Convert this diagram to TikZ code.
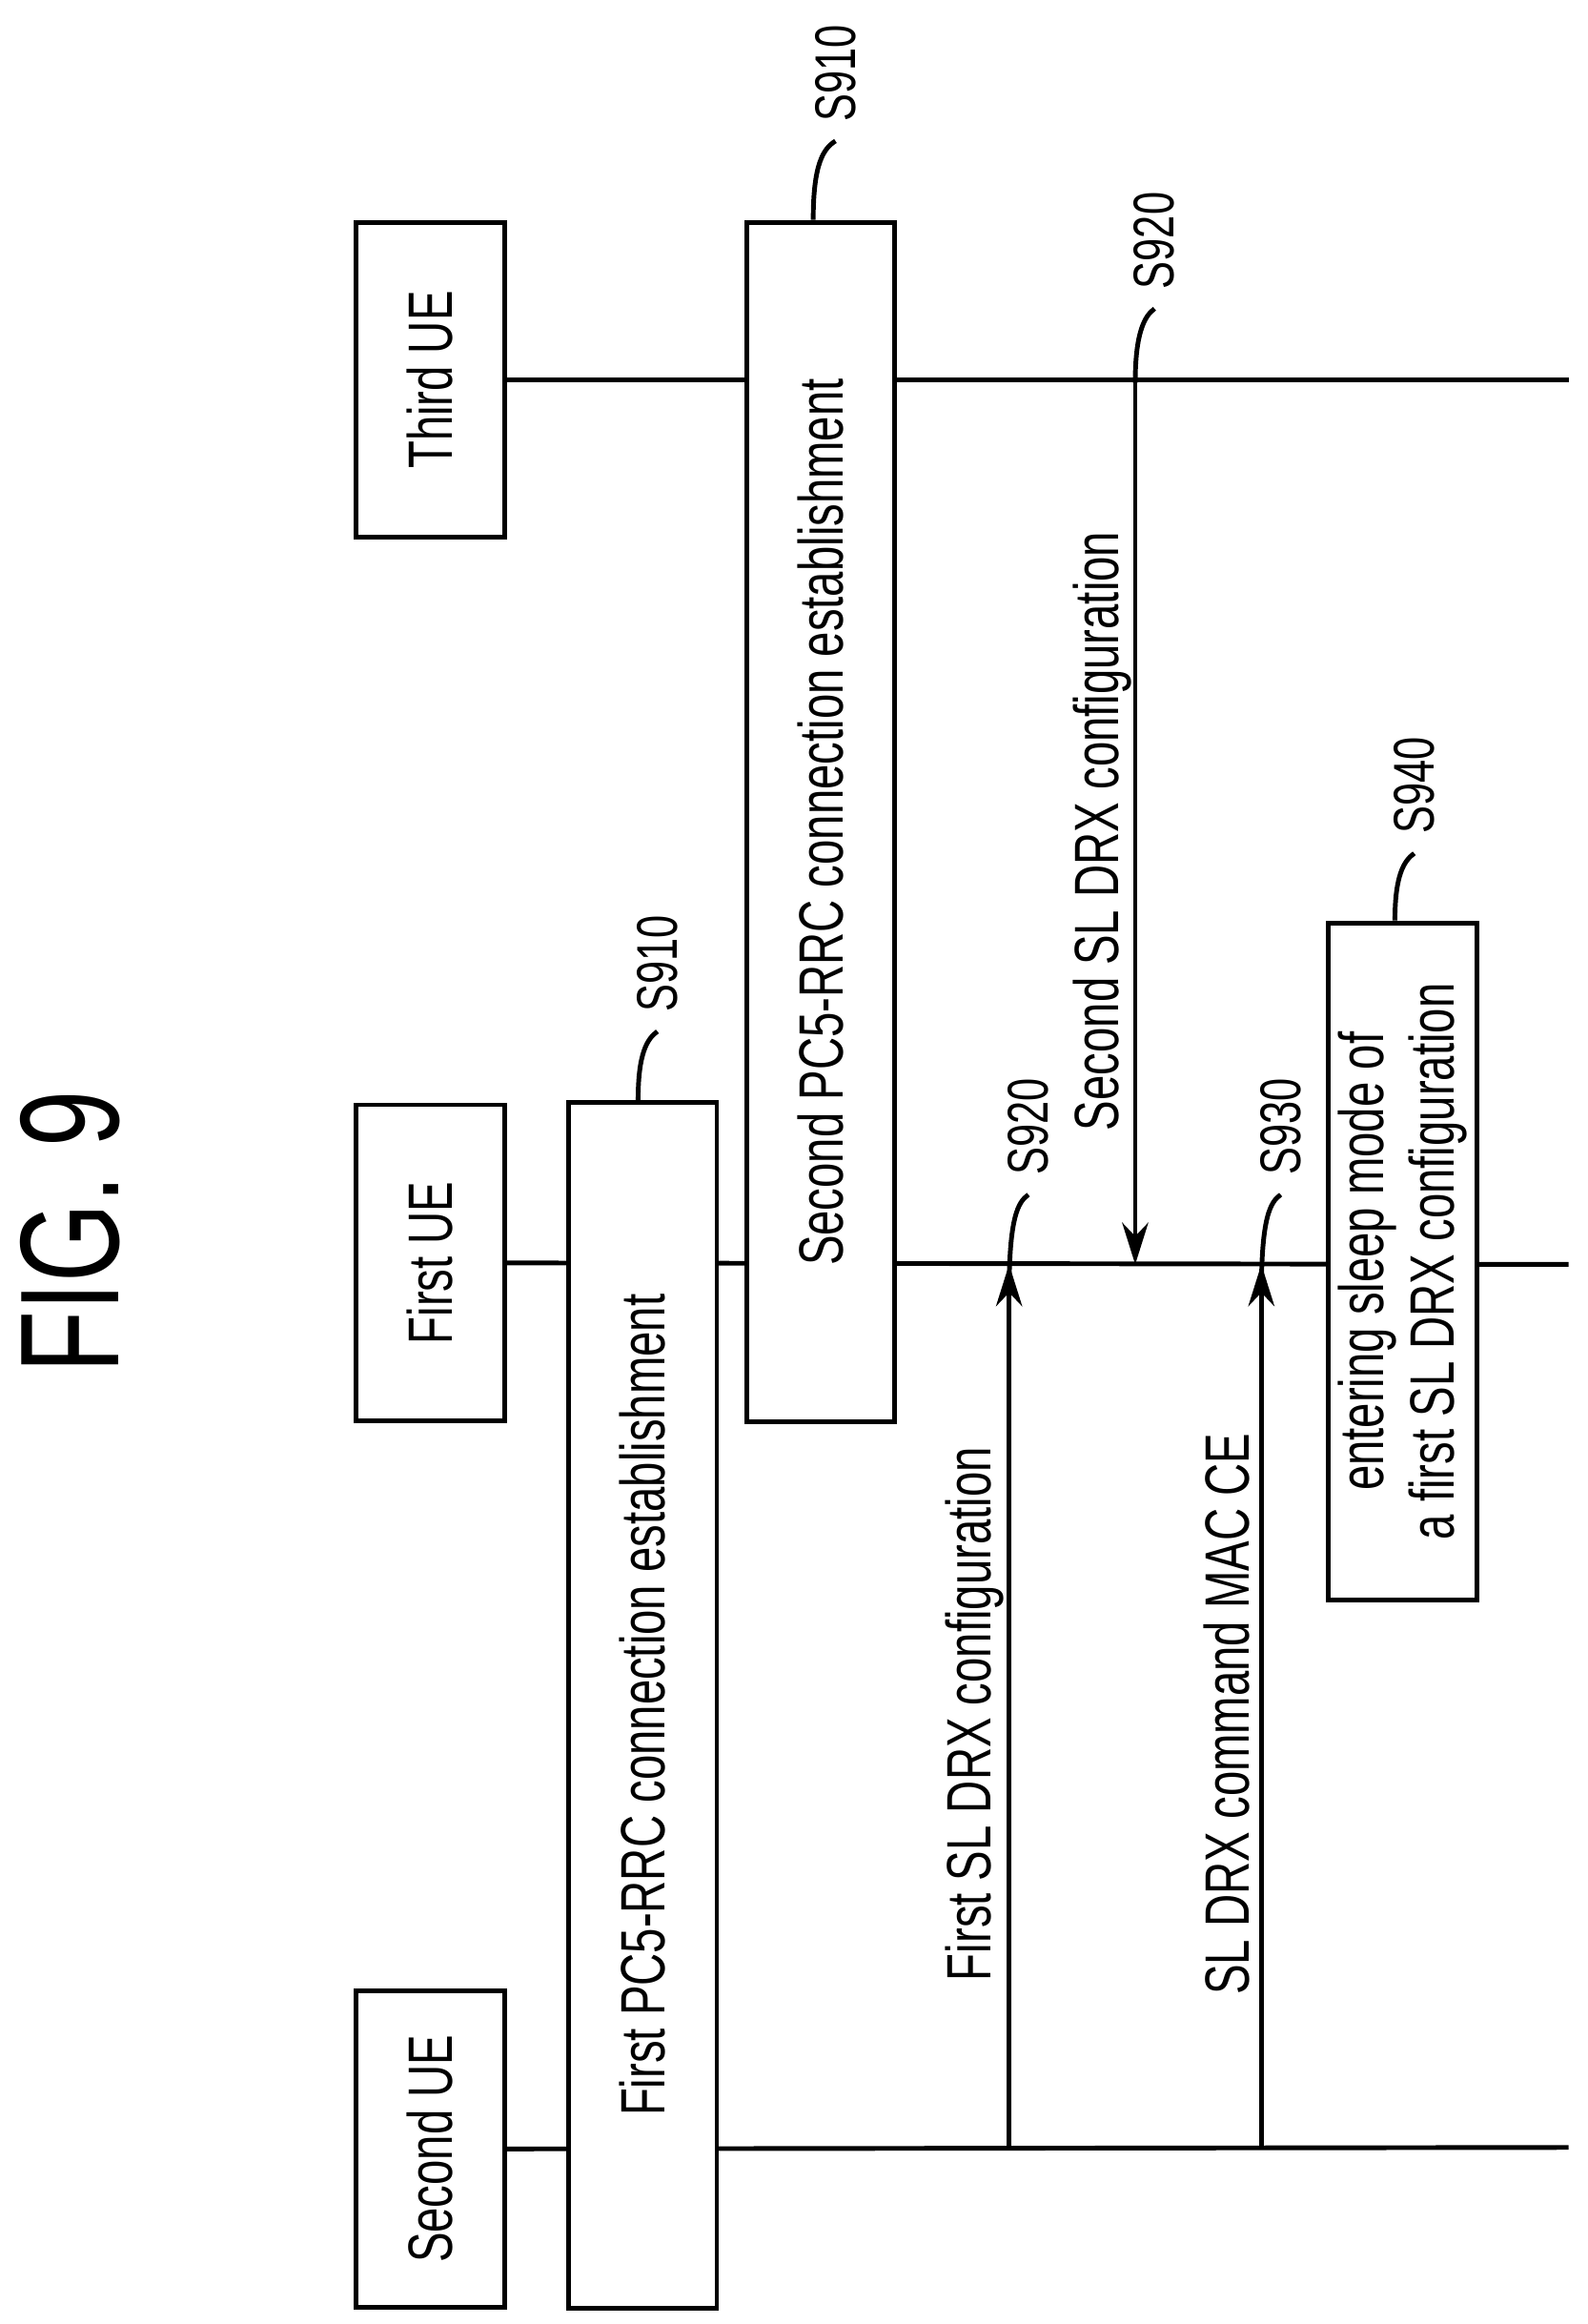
\documentclass[tikz,border=0pt]{standalone}
\usepackage{fontspec}
\setmainfont[FakeStretch=0.72]{Liberation Sans}
\usetikzlibrary{arrows.meta}
\begin{document}
\begin{tikzpicture}[x=0.01cm,y=-0.01cm,line width=0.9pt,
  box/.style={draw,minimum height=1cm,anchor=center,font=\fontsize{12}{15}\selectfont,rotate=90,align=center},
  lbl/.style={font=\fontsize{12}{14}\selectfont,rotate=90},
  tag/.style={font=\fontsize{11}{13}\selectfont,rotate=90},
  msg/.style={-{Stealth[length=8pt,width=5pt]}}]
\useasboundingbox (0,0) rectangle (1070,1566);
\node[rotate=90,font=\fontsize{27}{32}\selectfont] (fig) at (47,830) {FIG. 9};

% lifelines
\node[box,minimum width=2.12cm] (third) at (290,256) {Third UE};
\node[box,minimum width=2.13cm] (first) at (290,851) {First UE};
\node[box,minimum width=2.13cm] (second) at (290,1448) {Second UE};
\coordinate (thirdE) at (1057,256);
\coordinate (firstE) at (1057,852);
\coordinate (secondE) at (1057,1447);
\draw (third.south) -- (thirdE);
\draw (first.south) -- (firstE);
\draw (second.south) -- (secondE);

% boxes
\node[box,fill=white,minimum width=8.12cm] (rrc1) at (433,1149) {First PC5-RRC connection establishment};
\node[box,fill=white,minimum width=8.08cm] (rrc2) at (553,554) {Second PC5-RRC connection establishment};
\node[box,fill=white,minimum width=4.56cm,inner ysep=1pt,font=\fontsize{12}{13.5}\selectfont] (sleep) at (945,850) {entering sleep mode of\\a first SL DRX configuration};

% messages
\coordinate (m1s) at (680,1447); \coordinate (m1e) at (680,852);
\coordinate (m2s) at (765,256); \coordinate (m2e) at (765,852);
\coordinate (m3s) at (850,1447); \coordinate (m3e) at (850,852);
\draw[msg] (m1s) -- (m1e);
\draw[msg] (m2s) -- (m2e);
\draw[msg] (m3s) -- (m3e);
\node[lbl] (l1) at (657,1155) {First SL DRX configuration};
\node[lbl] (l2) at (743,560) {Second SL DRX configuration};
\node[lbl] (l3) at (827,1155) {SL DRX command MAC CE};

% step tags
\node[tag,anchor=west] (t1) at (443,695) {S910};
\draw (rrc1.east) ++(-3,0) .. controls (430,710) and (436,700) .. (t1.west);
\node[tag,anchor=west] (t2) at (563,95) {S910};
\draw (rrc2.east) ++(-5,0) .. controls (548,110) and (555,100) .. (t2.west);
\node[tag,anchor=west] (t3) at (693,805) {S920};
\draw (m1e) ++(0,20) .. controls (680,820) and (686,810) .. (t3.west);
\node[tag,anchor=west] (t4) at (778,208) {S920};
\draw (765,258) .. controls (765,225) and (771,213) .. (t4.west);
\node[tag,anchor=west] (t5) at (863,805) {S930};
\draw (m3e) ++(0,20) .. controls (850,820) and (856,810) .. (t5.west);
\node[tag,anchor=west] (t6) at (953,575) {S940};
\draw (sleep.east) ++(-5,0) .. controls (940,590) and (946,580) .. (t6.west);
\end{tikzpicture}
\end{document}
